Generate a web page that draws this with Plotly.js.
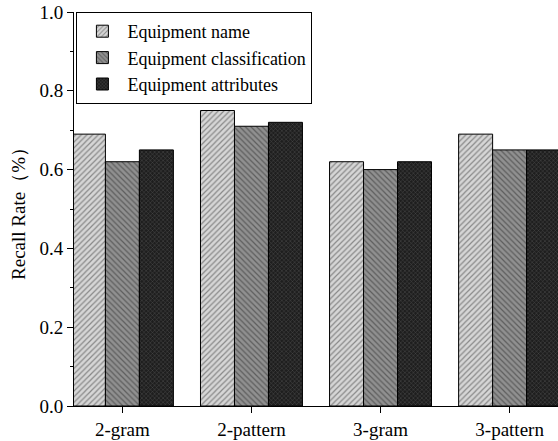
<!DOCTYPE html>
<html><head><meta charset="utf-8">
<script src="https://cdn.plot.ly/plotly-3.0.1.min.js"></script>
<style>body{margin:0;padding:0;background:#fff}#chart{width:558px;height:441px}</style>
</head><body><div id="chart"></div>
<script>
var categories = ["2-gram", "2-pattern", "3-gram", "3-pattern"];
var seriesNames = ["Equipment name", "Equipment classification", "Equipment attributes"];
var nameValues = [0.69, 0.75, 0.62, 0.69];
var classValues = [0.62, 0.71, 0.60, 0.65];
var attrValues = [0.65, 0.72, 0.62, 0.65];
var yTickVals = [0, 0.2, 0.4, 0.6, 0.8, 1.0];
var yTickText = ["0.0", "0.2", "0.4", "0.6", "0.8", "1.0"];

var styles = [
  {bg: "#d6d6d6", fg: "#3a3a3a", shape: "/", size: 4, solidity: 0.3},
  {bg: "#909090", fg: "#2a2a2a", shape: "\\", size: 4, solidity: 0.3},
  {bg: "#1e1e1e", fg: "#7a7a7a", shape: "x", size: 3, solidity: 0.3}
];
var values = [nameValues, classValues, attrValues];
var traces = values.map(function(v, i) {
  return {
    type: "bar", x: categories, y: v, name: seriesNames[i],
    marker: {
      color: styles[i].bg,
      line: {color: "#000", width: 1},
      pattern: {shape: styles[i].shape, bgcolor: styles[i].bg, fgcolor: styles[i].fg,
                size: styles[i].size, solidity: styles[i].solidity, fillmode: "overlay"}
    }
  };
});
var font = {family: "Liberation Serif", size: 19, color: "#000"};
var legendFont = {family: "Liberation Serif", size: 18, color: "#000"};
var layout = {
  width: 558, height: 441,
  margin: {l: 74, r: 0, t: 12, b: 35},
  paper_bgcolor: "#fff", plot_bgcolor: "#fff",
  font: font,
  barmode: "group", bargap: 0.21, bargroupgap: 0,
  showlegend: true,
  legend: {x: 0.005, y: 1, xanchor: "left", yanchor: "top", bgcolor: "#fff",
           bordercolor: "#000", borderwidth: 1, font: legendFont, tracegroupgap: 0, itemwidth: 40},
  xaxis: {
    type: "category", range: [-0.375, 3.375],
    showline: true, linecolor: "#000", linewidth: 1,
    ticks: "outside", ticklen: 6, tickcolor: "#000", tickwidth: 1,
    showgrid: false, zeroline: false, tickfont: font,
    minor: {ticks: "outside", ticklen: 3, tickcolor: "#000", tickwidth: 1, showgrid: false}
  },
  yaxis: {
    range: [0, 1.0], tickvals: yTickVals, ticktext: yTickText,
    showline: true, linecolor: "#000", linewidth: 1,
    ticks: "outside", ticklen: 6, tickcolor: "#000", tickwidth: 1,
    showgrid: false, zeroline: false, tickfont: font,
    minor: {dtick: 0.1, ticks: "outside", ticklen: 3, tickcolor: "#000", tickwidth: 1, showgrid: false},
    title: {text: "Recall Rate（%）", font: font, standoff: 8}
  }
};
Plotly.newPlot("chart", traces, layout, {staticPlot: true});
</script></body></html>
